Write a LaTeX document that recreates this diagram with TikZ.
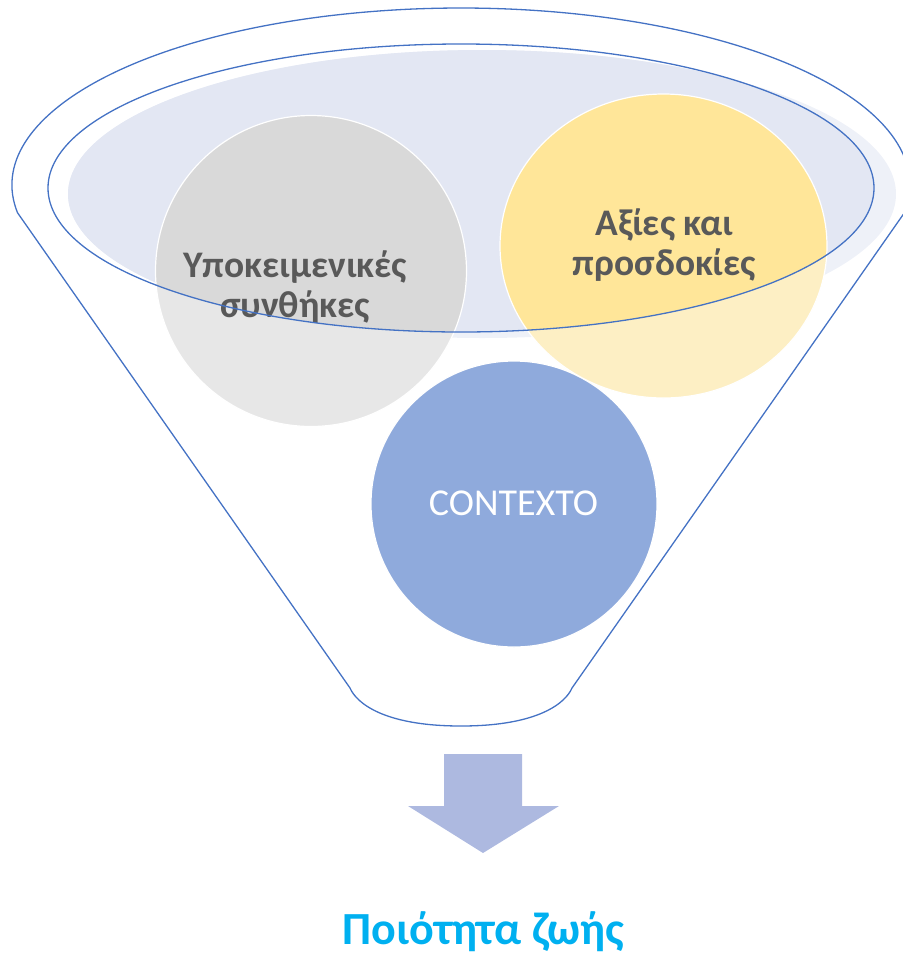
\documentclass[tikz,border=0pt]{standalone}
\usepackage{fontspec}
\setmainfont{Carlito}
\usetikzlibrary{shapes.geometric}
\definecolor{funnelblue}{HTML}{4472C4}
\definecolor{rimlight}{HTML}{EEF1F8}
\definecolor{rimdark}{HTML}{E3E7F3}
\definecolor{greylight}{HTML}{E7E7E7}
\definecolor{greydark}{HTML}{D9D9D9}
\definecolor{yellowlight}{HTML}{FDEFC4}
\definecolor{yellowdark}{HTML}{FFE699}
\definecolor{ctxblue}{HTML}{8FAADC}
\definecolor{arrowfill}{HTML}{ADB9E0}
\definecolor{textgrey}{HTML}{595959}
\definecolor{qolcyan}{HTML}{00B0F0}

\begin{document}
\begin{tikzpicture}[x=1pt,y=-1pt]
\tikzstyle{funnel}=[draw=funnelblue, line width=1.3pt];
\tikzstyle{bubble}=[circle, draw=white, line width=1.2pt, inner sep=0pt];
\tikzstyle{oval}=[ellipse, draw=white, line width=1.2pt, inner sep=0pt, minimum width=327pt, minimum height=304pt];
\tikzstyle{bubbletext}=[text=textgrey, font=\fontsize{37.5}{40}\selectfont\bfseries, align=center];
\useasboundingbox (0,0) rectangle (903,954);

\fill[rimlight] (482,194) ellipse [x radius=414, y radius=144];

\node[bubble, fill=ctxblue, minimum size=286pt] (context) at (514,504) {};
\node[bubble, fill=greylight, minimum size=311pt] (subj) at (311,271) {};
\node[oval, fill=yellowlight] (values) at (663.5,246) {};

\begin{scope}
\clip (461,188) ellipse [x radius=413, y radius=144];
\fill[rimdark] (482,194) ellipse [x radius=414, y radius=144];
\node[bubble, fill=greydark, minimum size=311pt] (subjin) at (subj) {};
\node[oval, fill=yellowdark] (valuesin) at (values) {};
\end{scope}

\node[bubbletext, anchor=base] (subjtext) at (295,317) {Υποκειμενικές\\συνθήκες};
\node[bubbletext, anchor=base] (valuestext) at (664.5,275) {Αξίες και\\προσδοκίες};
\node[text=white, font=\fontsize{38}{40}\selectfont, anchor=base] (contexttext) at (513.5,515) {CONTEXTO};

\draw[funnel] (461,188) ellipse [x radius=413, y radius=144];
\draw[funnel] (350,688) -- (17.5,212.7) arc[start angle=171, end angle=369, x radius=449, y radius=177] -- (572,688)
  .. controls (566,702) and (540,726) .. (461,726) .. controls (382,726) and (356,702) .. (350,688) -- cycle;

\fill[arrowfill] (444,754) -- (522,754) -- (522,806) -- (559,806) -- (483,853) -- (408,806) -- (444,806) -- cycle;

\node[text=qolcyan, font=\fontsize{46}{48}\selectfont\bfseries, anchor=base] (qol) at (483.5,944) {Ποιότητα ζωής};
\end{tikzpicture}
\end{document}
